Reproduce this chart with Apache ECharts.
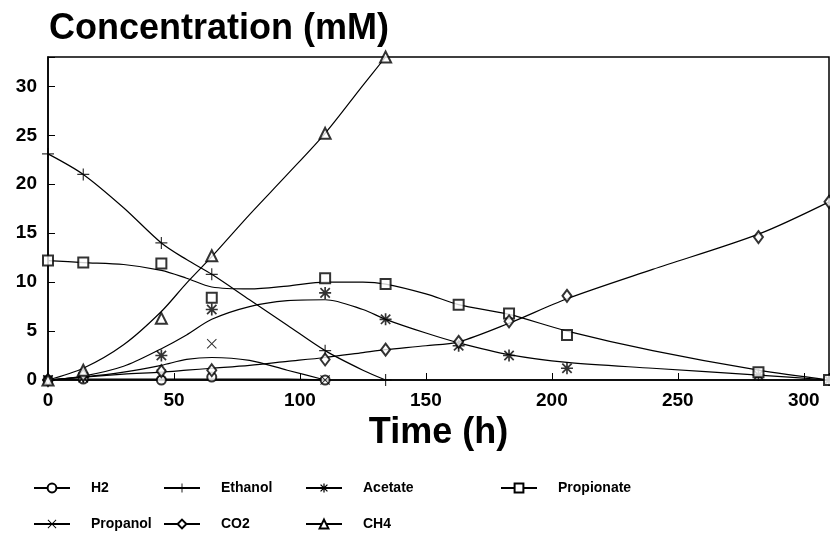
<!DOCTYPE html>
<html>
<head>
<meta charset="utf-8">
<script src="https://cdn.jsdelivr.net/npm/echarts@6/dist/echarts.min.js"></script>
<style>
   html, body { margin: 0; padding: 0; background: #fff; }
   #chart { width: 830px; height: 546px; }
</style>
</head>
<body>
<div id="chart"></div>
<script>
// measured points (sampling times, h)
var sampleTimes = [ 0, 14, 45, 65, 110, 134, 163, 183, 206, 282, 310 ] ;
var h2Pts = [ 0, 0.1, 0, 0.3, 0 ] ;
var ethanolPts = [ 23.1, 21.0, 14.0, 10.8, 3.0, 0.0 ] ;
var acetatePts = [ 0, 0.3, 2.5, 7.2, 8.9, 6.2, 3.5, 2.5, 1.2, 0.5, 0 ] ;
var propionatePts = [ 12.2, 12.0, 11.9, 8.4, 10.4, 9.8, 7.7, 6.8, 4.6, 0.8, 0 ] ;
var propanolPts = [ 0, 0.2, 0.6, 3.7, 0 ] ;
var co2Pts = [ 0, 0.5, 0.9, 1.0, 2.1, 3.1, 3.9, 6.0, 8.6, 14.6, 18.2 ] ;
var ch4Pts = [ 0, 1.0, 6.3, 12.7, 25.2, 33.0 ] ;

// fitted curves
var curveTimes = [ 0, 14, 30, 45, 55, 65, 80, 95, 110, 125, 134, 150, 163, 183, 206, 240, 282, 310 ] ;
var h2Curve = [ 0, 0.1, 0.1, 0.1, 0.1, 0.1, 0.1, 0.1, 0 ] ;
var ethanolCurve = [ 23.1, 21.0, 17.6, 14.0, 12.3, 10.8, 8.2, 5.6, 3.0, 1.0, 0 ] ;
var acetateCurve = [ 0, 0.4, 1.4, 3.2, 4.6, 6.2, 7.5, 8.1, 8.2, 7.2, 6.2, 4.8, 3.8, 2.6, 1.8, 1.2, 0.5, 0 ] ;
var propionateCurve = [ 12.2, 12.0, 11.8, 11.2, 10.4, 9.5, 9.3, 9.6, 10.0, 10.0, 9.8, 8.8, 7.7, 6.7, 5.0, 3.0, 1.0, 0 ] ;
var propanolCurve = [ 0, 0.3, 0.8, 1.5, 2.1, 2.3, 2.0, 1.0, 0 ] ;
var co2Curve = [ 0, 0.3, 0.6, 0.8, 1.0, 1.2, 1.5, 1.9, 2.3, 2.8, 3.1, 3.5, 3.9, 5.8, 8.3, 11.3, 14.9, 18.2 ] ;
var ch4Curve = [ 0, 1.2, 3.6, 7.0, 9.9, 12.6, 16.9, 21.0, 25.2, 30.1, 33.0 ] ;

var yTicks = [ 0, 5, 10, 15, 20, 25, 30 ] ;
var xTicks = [ 0, 50, 100, 150, 200, 250, 300 ] ;

(function(){
   var FONT = 'Liberation Sans, Arial, sans-serif' ;
   var plusPath = 'path://M4.5,0H5.5V10H4.5Z M0,4.5H10V5.5H0Z' ;
   var crossPath = 'path://M0.7,0L10,9.3L9.3,10L0,0.7Z M9.3,0L10,0.7L0.7,10L0,9.3Z' ;
   var starPath = 'path://M4.3,0H5.7V10H4.3Z M0,4.3H10V5.7H0Z M1.6,0.6L9.4,8.4L8.4,9.4L0.6,1.6Z M8.4,0.6L9.4,1.6L1.6,9.4L0.6,8.4Z' ;

   var species = [
      { name: 'H2', pts: h2Pts, curve: h2Curve, symbol: 'emptyCircle', size: 9, left: 28, top: 476 },
      { name: 'Ethanol', pts: ethanolPts, curve: ethanolCurve, symbol: plusPath, size: 12, left: 158, top: 476 },
      { name: 'Acetate', pts: acetatePts, curve: acetateCurve, symbol: starPath, size: 12, left: 300, top: 476 },
      { name: 'Propionate', pts: propionatePts, curve: propionateCurve, symbol: 'emptyRect', size: 10, left: 495, top: 476 },
      { name: 'Propanol', pts: propanolPts, curve: propanolCurve, symbol: crossPath, size: 10, left: 28, top: 512 },
      { name: 'CO2', pts: co2Pts, curve: co2Curve, symbol: 'emptyDiamond', size: [ 9, 12 ], left: 158, top: 512 },
      { name: 'CH4', pts: ch4Pts, curve: ch4Curve, symbol: 'emptyTriangle', size: 11, left: 300, top: 512 }
   ] ;

   var series = [] ;
   var legends = [] ;
   var each = function( arr, fn ){ for( var i = 0; i < arr.length; ++i ) fn( i, arr[i] ) ; } ;
   each( species, function( index, s ){
      var curveData = [] ;
      each( s.curve, function( i, v ){ curveData.push( [ curveTimes[i], v ] ) ; } ) ;
      var ptData = [] ;
      each( s.pts, function( i, v ){ ptData.push( [ sampleTimes[i], v ] ) ; } ) ;
      //path symbols are filled, outline ones are stroked
      var isPath = s.symbol.indexOf( 'path://' ) == 0 ;
      var style = { color: '#000', borderColor: '#000', borderWidth: isPath ? 0 : 1.2 } ;
      series.push( {
         name: s.name, type: 'line', data: curveData, smooth: 0.3,
         symbol: s.symbol, symbolSize: s.size, showSymbol: false,
         lineStyle: { color: '#000', width: 1.2 },
         itemStyle: style,
         silent: true, z: 2
      } ) ;
      series.push( {
         name: s.name, type: 'scatter', data: ptData, clip: false,
         symbol: s.symbol, symbolSize: s.size,
         itemStyle: style,
         z: 3
      } ) ;
      legends.push( {
         data: [ s.name ], left: s.left, top: s.top, orient: 'horizontal',
         itemWidth: 36, itemHeight: 11, itemGap: 0, selectedMode: false,
         textStyle: { fontFamily: FONT, fontSize: 14, fontWeight: 'bold', color: '#000', padding: [ 0, 0, 0, 16 ] }
      } ) ;
   } ) ;

   var chart = echarts.init( document.getElementById( 'chart' ) ) ;
   chart.setOption( {
      backgroundColor: '#fff',
      animation: false,
      title: {
         text: 'Concentration (mM)', left: 44, top: 6,
         textStyle: { fontFamily: FONT, fontSize: 36, fontWeight: 'bold', color: '#000' }
      },
      legend: legends,
      grid: {
         left: 48, right: 1, top: 57, bottom: 166,
         show: true, borderColor: '#000', borderWidth: 1.5,
         containLabel: false, outerBoundsMode: 'none'
      },
      xAxis: {
         type: 'value', min: 0, max: 310, interval: 50,
         name: 'Time (h)', nameLocation: 'middle', nameGap: 28,
         nameTextStyle: { fontFamily: FONT, fontSize: 36, fontWeight: 'bold', color: '#000' },
         axisLine: { lineStyle: { color: '#000', width: 1.5 } },
         axisTick: { inside: true, length: 7, lineStyle: { color: '#000' } },
         axisLabel: {
            fontFamily: FONT, fontSize: 19, fontWeight: 'bold', color: '#000', margin: 11,
            formatter: function( v ){ return xTicks.indexOf( v ) >= 0 ? String( v ) : '' ; }
         },
         splitLine: { show: false }
      },
      yAxis: {
         type: 'value', min: 0, max: 33, interval: 5,
         axisLine: { show: true, lineStyle: { color: '#000', width: 1.5 } },
         axisTick: { show: true, inside: true, length: 7, lineStyle: { color: '#000' } },
         axisLabel: {
            fontFamily: FONT, fontSize: 19, fontWeight: 'bold', color: '#000', margin: 11,
            formatter: function( v ){ return yTicks.indexOf( v ) >= 0 ? String( v ) : '' ; }
         },
         splitLine: { show: false }
      },
      series: series
   } ) ;
}());
</script>
</body>
</html>
